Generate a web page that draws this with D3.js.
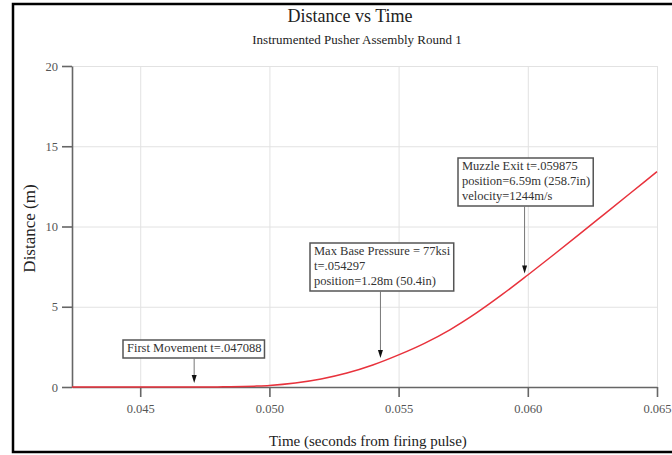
<!DOCTYPE html>
<html>
<head>
<meta charset="utf-8">
<script src="https://cdn.jsdelivr.net/npm/d3@7"></script>
<style>
  body { margin: 0; background: #fff; }
  svg { display: block; font-family: 'Liberation Serif', 'Times New Roman', serif; }
  .grid line { stroke: #e2e2e2; stroke-width: 1; }
  .grid path { display: none; }
  .axis path, .axis line { stroke: #666; stroke-width: 1.6; }
  .axis text { fill: #555; font-size: 12.5px; font-family: 'Liberation Serif', serif; }
</style>
</head>
<body>
<svg id="chart"></svg>
<script>
// time (s from firing pulse) vs distance (m)
var times = [0.04236, 0.046, 0.0475, 0.048, 0.0485, 0.049, 0.0495, 0.050, 0.051, 0.052, 0.053, 0.054, 0.055,
  0.056, 0.057, 0.058, 0.059, 0.060, 0.061, 0.062, 0.063, 0.064, 0.065];
var distances = [0, 0, 0, 0.005, 0.015, 0.03, 0.06, 0.10, 0.25, 0.50, 0.87, 1.37, 2.0,
  2.72, 3.58, 4.6, 5.75, 6.98, 8.24, 9.52, 10.82, 12.12, 13.42];

var xTicks = [0.045, 0.050, 0.055, 0.060, 0.065];
var yTicks = [0, 5, 10, 15, 20];

var annoTimes = [0.047088, 0.054297, 0.059875];
var annoLines = [
  ['First Movement t=.047088'],
  ['Max Base Pressure = 77ksi', 't=.054297', 'position=1.28m (50.4in)'],
  ['Muzzle Exit t=.059875', 'position=6.59m (258.7in)', 'velocity=1244m/s']
];
// box top-left corners in pixels (layout only)
var annoBoxes = [[123, 340], [310, 243], [458, 158]];

var svgWidth = 672;
var svgHeight = 455;
var borders = { left: 72, right: 15, top: 66, bottom: 68 };
var innerWidth = svgWidth - borders.left - borders.right;
var innerHeight = svgHeight - borders.top - borders.bottom;

var svg = d3.select('#chart')
  .attr('width', svgWidth)
  .attr('height', svgHeight);

// frame
svg.append('path')
  .attr('d', 'M' + svgWidth + ',4 H13 V452 H' + svgWidth)
  .attr('fill', 'none')
  .attr('stroke', '#000')
  .attr('stroke-width', 2.5);

var xScale = d3.scaleLinear()
  .domain([0.04236, 0.065])
  .range([0, innerWidth]);

var yScale = d3.scaleLinear()
  .domain([0, 20])
  .range([innerHeight, 0]);

var g = svg.append('g')
  .attr('transform', 'translate(' + borders.left + ',' + borders.top + ')');

// grid
g.append('g')
  .attr('class', 'grid')
  .call(d3.axisLeft(yScale).tickValues(yTicks.slice(1)).tickSize(-innerWidth).tickFormat(''));

g.append('g')
  .attr('class', 'grid')
  .call(d3.axisBottom(xScale).tickValues(xTicks).tickSize(innerHeight).tickFormat(''));

// axes
g.append('g')
  .attr('class', 'axis')
  .call(d3.axisLeft(yScale).tickValues(yTicks).tickSize(10).tickSizeOuter(0).tickPadding(4));

g.append('g')
  .attr('class', 'axis')
  .attr('transform', 'translate(0,' + innerHeight + ')')
  .call(d3.axisBottom(xScale).tickValues(xTicks).tickFormat(d3.format('.3f'))
    .tickSize(10).tickSizeOuter(0).tickPadding(7));

// curve
var pts = times.map(function (t, i) { return [t, distances[i]]; });
var line = d3.line()
  .x(function (d) { return xScale(d[0]); })
  .y(function (d) { return yScale(d[1]); })
  .curve(d3.curveMonotoneX);

g.append('path')
  .datum(pts)
  .attr('d', line)
  .attr('fill', 'none')
  .attr('stroke', '#e8323c')
  .attr('stroke-width', 1.5);

// titles
svg.append('text')
  .attr('x', 350).attr('y', 22)
  .attr('text-anchor', 'middle')
  .attr('font-size', 18)
  .attr('fill', '#222')
  .text('Distance vs Time');

svg.append('text')
  .attr('x', 357).attr('y', 44)
  .attr('text-anchor', 'middle')
  .attr('font-size', 13)
  .attr('fill', '#222')
  .text('Instrumented Pusher Assembly Round 1');

svg.append('text')
  .attr('x', 368).attr('y', 446)
  .attr('text-anchor', 'middle')
  .attr('font-size', 15)
  .attr('fill', '#222')
  .text('Time (seconds from firing pulse)');

svg.append('text')
  .attr('transform', 'translate(35,' + (borders.top + innerHeight / 2 + 2) + ') rotate(-90)')
  .attr('text-anchor', 'middle')
  .attr('font-size', 17)
  .attr('fill', '#222')
  .text('Distance (m)');

// annotations
var interp = function (t) {
  var i = d3.bisectRight(times, t);
  var t0 = times[i - 1], t1 = times[i];
  var f = (t - t0) / (t1 - t0);
  return distances[i - 1] + f * (distances[i] - distances[i - 1]);
};

annoTimes.forEach(function (t, k) {
  var bx = annoBoxes[k][0], by = annoBoxes[k][1];
  var ag = svg.append('g');
  var lineH = 15;
  var txt = ag.append('text')
    .attr('font-size', 12.5)
    .attr('fill', '#333');
  annoLines[k].forEach(function (s, j) {
    txt.append('tspan')
      .attr('x', bx + 4)
      .attr('y', by + 12 + j * lineH)
      .text(s);
  });
  var bb = txt.node().getBBox();
  var bh = annoLines[k].length * lineH + 3;
  ag.insert('rect', 'text')
    .attr('x', bx).attr('y', by)
    .attr('width', bb.width + 7)
    .attr('height', bh)
    .attr('fill', '#fff')
    .attr('stroke', '#555')
    .attr('stroke-width', 1.5);

  var ax = borders.left + xScale(t);
  var tipY = borders.top + yScale(interp(t)) - 4;
  ag.append('line')
    .attr('x1', ax).attr('x2', ax)
    .attr('y1', by + bh).attr('y2', tipY - 6)
    .attr('stroke', '#777')
    .attr('stroke-width', 1);
  ag.append('path')
    .attr('d', 'M' + (ax - 2.5) + ',' + (tipY - 8) + 'L' + (ax + 2.5) + ',' + (tipY - 8) + 'L' + ax + ',' + tipY + 'Z')
    .attr('fill', '#111');
});
</script>
</body>
</html>
